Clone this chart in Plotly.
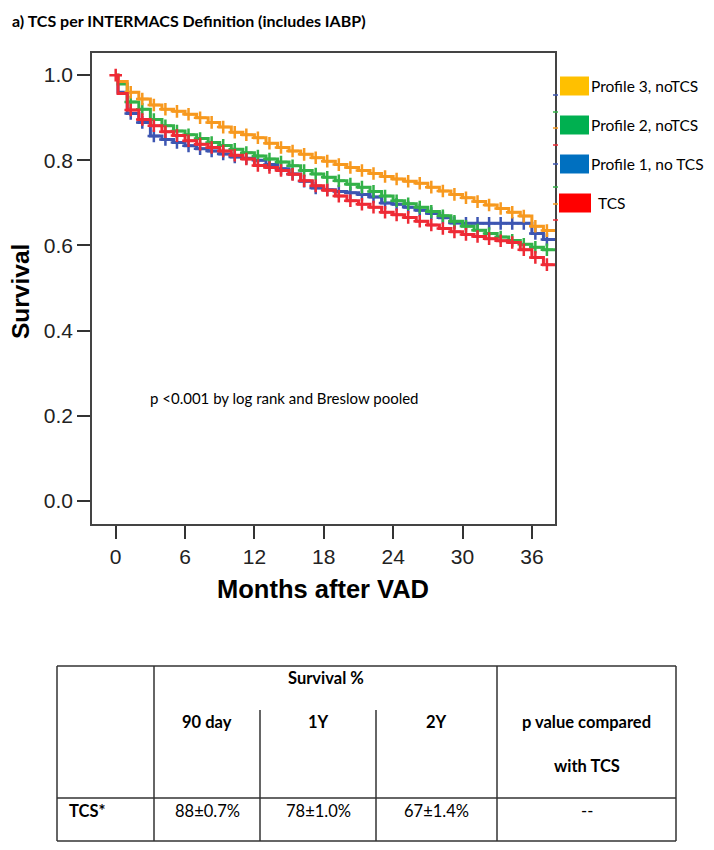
import plotly.graph_objects as go

# ---------------- data ----------------
months = [0, 0.2, 1, 2, 3, 4, 5, 6, 7, 8, 9, 10, 11, 12, 13, 14, 15, 16, 17, 18, 19,
          20, 21, 22, 23, 24, 25, 26, 27, 28, 29, 30, 31, 32, 33, 34, 35, 36, 37, 38]

surv_profile3 = [1.0, 0.985, 0.96, 0.944, 0.93, 0.92, 0.915, 0.908, 0.9, 0.889, 0.878, 0.866,
                 0.86, 0.853, 0.84, 0.83, 0.822, 0.814, 0.806, 0.798, 0.79, 0.783, 0.776,
                 0.769, 0.762, 0.756, 0.751, 0.746, 0.737, 0.728, 0.72, 0.712, 0.703, 0.695,
                 0.687, 0.678, 0.669, 0.645, 0.635, 0.635]
surv_profile2 = [1.0, 0.979, 0.937, 0.92, 0.896, 0.881, 0.869, 0.86, 0.851, 0.842, 0.835, 0.826,
                 0.818, 0.81, 0.803, 0.796, 0.787, 0.776, 0.768, 0.76, 0.752, 0.744, 0.737,
                 0.727, 0.716, 0.705, 0.698, 0.69, 0.68, 0.67, 0.657, 0.645, 0.636, 0.628,
                 0.62, 0.612, 0.603, 0.596, 0.59, 0.59]
surv_profile1 = [1.0, 0.96, 0.91, 0.889, 0.857, 0.849, 0.842, 0.834, 0.827, 0.822, 0.815, 0.808,
                 0.805, 0.8, 0.79, 0.78, 0.768, 0.751, 0.735, 0.731, 0.727, 0.724, 0.72,
                 0.714, 0.70, 0.697, 0.69, 0.683, 0.675, 0.665, 0.653, 0.652, 0.652, 0.652,
                 0.652, 0.652, 0.652, 0.628, 0.614, 0.614]
surv_tcs = [1.0, 0.957, 0.918, 0.896, 0.881, 0.867, 0.858, 0.846, 0.838, 0.83, 0.822, 0.812,
            0.803, 0.788, 0.783, 0.776, 0.767, 0.752, 0.74, 0.73, 0.716, 0.705, 0.697,
            0.69, 0.678, 0.672, 0.666, 0.657, 0.648, 0.64, 0.632, 0.626, 0.621, 0.616,
            0.611, 0.607, 0.59, 0.572, 0.555, 0.555]

series_names = ["Profile 1, no TCS", "Profile 2, noTCS", "Profile 3, noTCS", "TCS"]
legend_order = ["Profile 3, noTCS", "Profile 2, noTCS", "Profile 1, no TCS", "TCS"]

x_ticks = [0, 6, 12, 18, 24, 30, 36]
y_ticks = [0.0, 0.2, 0.4, 0.6, 0.8, 1.0]

title_text = "a) TCS per INTERMACS Definition (includes IABP)"
p_text = "p <0.001 by log rank and Breslow pooled"
x_title = "Months after VAD"
y_title = "Survival"

table_group_header = "Survival %"
table_col_headers = ["90 day", "1Y", "2Y"]
table_p_header = ["p value compared", "with TCS"]
table_row_label = "TCS*"
table_row_values = ["88±0.7%", "78±1.0%", "67±1.4%", "--"]

# ---------------- styles ----------------
line_colors = {"Profile 3, noTCS": "#F7991F", "Profile 2, noTCS": "#33B249",
               "Profile 1, no TCS": "#3D56B2", "TCS": "#EE2A35"}
legend_colors = {"Profile 3, noTCS": "#FFC000", "Profile 2, noTCS": "#00B050",
                 "Profile 1, no TCS": "#0070C0", "TCS": "#FF0000"}
series_data = {"Profile 1, no TCS": surv_profile1, "Profile 2, noTCS": surv_profile2,
               "Profile 3, noTCS": surv_profile3, "TCS": surv_tcs}

OFF = 8  # default page body margin
W, H = 714 - OFF, 850 - 2 * OFF
# plot area in page px
L, R, T, B = 92, 555, 53, 524
Lf, Rf, Tf, Bf = L - OFF, R - OFF, T - OFF, B - OFF


def px(xp):
    return (xp - L) / (R - L)


def py(yp):
    return (B - yp) / (B - T)


CAL = "Lato, Carlito, Calibri, sans-serif"
ARI = "Liberation Sans, Arial, sans-serif"

fig = go.Figure()
for name in series_names:
    vals = series_data[name]
    c = line_colors[name]
    fig.add_trace(go.Scatter(x=months, y=vals, mode="lines", line=dict(color=c, width=3, shape="hv"),
                             showlegend=False, hoverinfo="skip"))
    mx = [m + 0.3 for m in months[2:-1]]
    my = vals[2:-1]
    if name == "TCS":
        mx = [months[0]] + mx
        my = [vals[0]] + my
    fig.add_trace(go.Scatter(x=mx, y=my, mode="markers",
                             marker=dict(symbol="cross-thin", size=9, line=dict(color=c, width=2.5)),
                             showlegend=False, hoverinfo="skip"))

fig.update_layout(
    width=W, height=H, margin=dict(l=Lf, r=W - Rf, t=Tf, b=H - Bf),
    paper_bgcolor="white", plot_bgcolor="white", showlegend=False,
    xaxis=dict(range=[-2.05, 38.0], tickvals=x_ticks, ticks="outside", ticklen=13, tickwidth=1.5,
               tickcolor="#333", showline=True, linecolor="#444", linewidth=1.5, mirror=True,
               showgrid=False, zeroline=False, tickfont=dict(family=ARI, size=21, color="#222")),
    yaxis=dict(range=[-0.054, 1.052], tickvals=y_ticks, tickformat=".1f", ticks="outside", ticklen=13,
               tickwidth=1.5, tickcolor="#333", showline=True, linecolor="#444", linewidth=1.5,
               mirror=True, showgrid=False, zeroline=False,
               tickfont=dict(family=ARI, size=21, color="#222")),
)

ann = []
ann.append(dict(text=title_text, x=px(10), y=py(20), xanchor="left", yanchor="middle",
                font=dict(family=CAL, size=16, color="black", weight="bold")))
ann.append(dict(text=x_title, x=px(323), y=py(589), xanchor="center", yanchor="middle",
                font=dict(family=ARI, size=25.5, color="black", weight="bold")))
ann.append(dict(text=y_title, x=px(20), y=py(292), xanchor="center", yanchor="middle", textangle=-90,
                font=dict(family=ARI, size=24.5, color="black", weight="bold")))
ann.append(dict(text=p_text, x=px(148), y=py(398), xanchor="left", yanchor="middle",
                font=dict(family=CAL, size=15, color="black")))

shapes = []
# legend
leg_y = [86, 125, 164, 203]
for name, yc in zip(legend_order, leg_y):
    if name == "TCS":
        x0, x1, tx = 559, 591, 596
    else:
        x0, x1, tx = 560, 589, 589
    shapes.append(dict(type="rect", xref="paper", yref="paper", x0=px(x0), x1=px(x1),
                       y0=py(yc + 9.5), y1=py(yc - 9.5), fillcolor=legend_colors[name], line=dict(width=0)))
    ann.append(dict(text=name, x=px(tx), y=py(yc), xanchor="left", yanchor="middle",
                    font=dict(family=CAL, size=15.5, color="black")))

# small colored marks on the right frame edge
edge_marks = [(95, "Profile 1, no TCS"), (112, "Profile 2, noTCS"), (128, "Profile 3, noTCS"), (145, "TCS"),
              (164, "Profile 1, no TCS"), (187, "Profile 2, noTCS"), (204, "Profile 3, noTCS"), (220, "TCS")]
for yy, name in edge_marks:
    shapes.append(dict(type="line", xref="paper", yref="paper", x0=px(553), x1=px(558),
                       y0=py(yy), y1=py(yy), line=dict(color=line_colors[name], width=1.5)))

# table
tl, c1, c2, c3, c4, tr = 57, 154, 260, 376, 497, 676
tt, ti, th, tb = 666, 710, 798, 841
tcol = "#333"


def hline(x0, x1, y):
    shapes.append(dict(type="line", xref="paper", yref="paper", x0=px(x0), x1=px(x1), y0=py(y), y1=py(y),
                       line=dict(color=tcol, width=1.5)))


def vline(x, y0, y1):
    shapes.append(dict(type="line", xref="paper", yref="paper", x0=px(x), x1=px(x), y0=py(y0), y1=py(y1),
                       line=dict(color=tcol, width=1.5)))


hline(tl, tr, tt)
hline(tl, tr, th)
hline(tl, tr, tb)
vline(tl, tt, tb)
vline(c1, tt, tb)
vline(c4, tt, tb)
vline(tr, tt, tb)
vline(c2, ti, tb)
vline(c3, ti, tb)

TF = 16.5
ann.append(dict(text=table_group_header, x=px((c1 + c4) / 2), y=py(678), xanchor="center", yanchor="middle",
                font=dict(family=CAL, size=TF, color="black", weight="bold")))
col_centers = [(c1 + c2) / 2, (c2 + c3) / 2, (c3 + c4) / 2, (c4 + tr) / 2]
for txt, cx in zip(table_col_headers, col_centers[:3]):
    ann.append(dict(text=txt, x=px(cx), y=py(722), xanchor="center", yanchor="middle",
                    font=dict(family=CAL, size=TF, color="black", weight="bold")))
for txt, yy in zip(table_p_header, [722, 766]):
    ann.append(dict(text=txt, x=px(col_centers[3]), y=py(yy), xanchor="center", yanchor="middle",
                    font=dict(family=CAL, size=TF, color="black", weight="bold")))
ann.append(dict(text=table_row_label, x=px(67), y=py(811), xanchor="left", yanchor="middle",
                font=dict(family=CAL, size=TF, color="black", weight="bold")))
for txt, cx in zip(table_row_values, col_centers):
    ann.append(dict(text=txt, x=px(cx), y=py(811), xanchor="center", yanchor="middle",
                    font=dict(family=CAL, size=TF, color="black")))

for a in ann:
    a.update(xref="paper", yref="paper", showarrow=False)

fig.update_layout(annotations=ann, shapes=shapes)
fig.write_html("out.html")
